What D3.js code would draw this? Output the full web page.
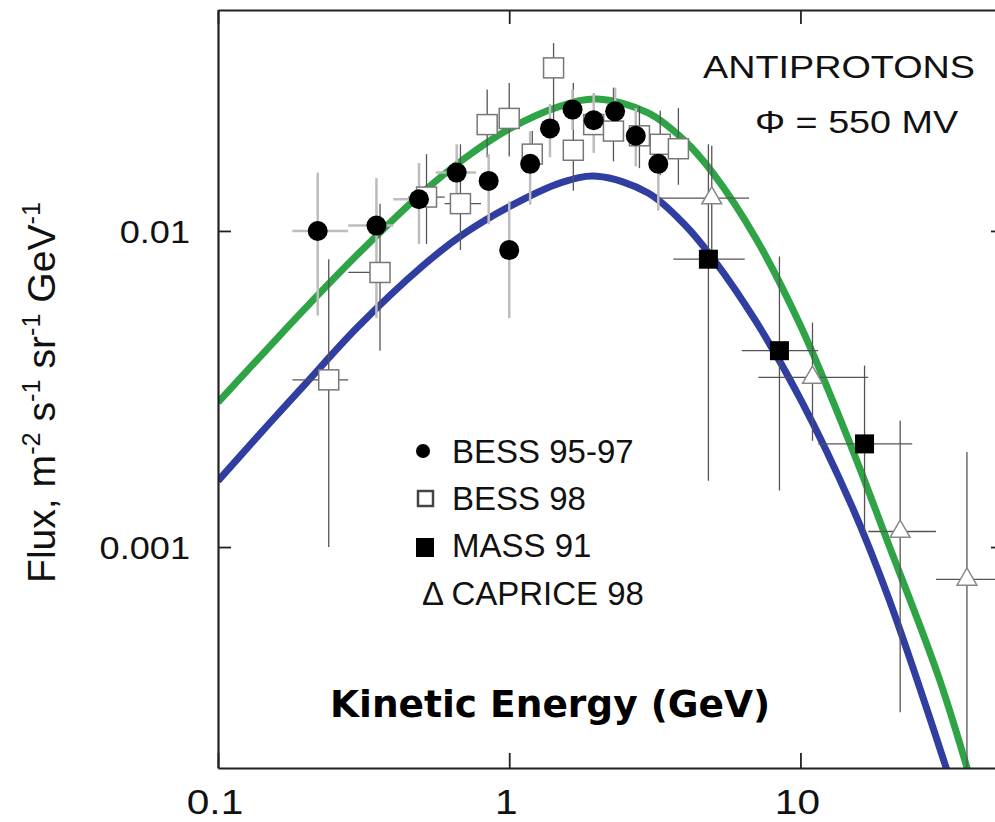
<!DOCTYPE html>
<html>
<head>
<meta charset="utf-8">
<script src="https://cdn.jsdelivr.net/npm/d3@7"></script>
<style>
  body { margin: 0; background: #fff; }
  svg { display: block; }
</style>
</head>
<body>
<div id="chart"></div>
<script>
// Antiprotons flux chart

// Model curves (flux at each energy)
var energyGrid = [0.1, 0.15, 0.2, 0.3, 0.5, 0.7, 1, 1.5, 2, 3, 4, 5, 7, 10, 15, 20, 30, 40]
var greenCurve = [0.00287, 0.0043, 0.00571, 0.00839, 0.01315, 0.01692, 0.02103, 0.02483, 0.02615, 0.02363, 0.01931, 0.01527, 0.00954, 0.00502, 0.00206, 0.00103, 0.000382, 0.000161]
var blueCurve = [0.00162, 0.00246, 0.00329, 0.00494, 0.0077, 0.0098, 0.01194, 0.0142, 0.0149, 0.01319, 0.01048, 0.00819, 0.00521, 0.00294, 0.00135, 0.000696, 0.000233, 0.000101]

// Data rows: [energy, flux, fluxLow, fluxHigh, energyLow, energyHigh]
var bess9597 = [
  [0.22, 0.0100, 0.0054, 0.0153, 0.18, 0.28],
  [0.35, 0.0104, 0.0053, 0.0147, 0.28, 0.40],
  [0.49, 0.0126, 0.0091, 0.0164, 0.40, 0.56],
  [0.66, 0.0153, 0.0116, 0.0188, 0.56, 0.77],
  [0.85, 0.0144, 0.0105, 0.0175, 0.85, 0.85],
  [1.0, 0.0087, 0.0053, 0.0124, 1.0, 1.0],
  [1.18, 0.0163, 0.0121, 0.0207, 1.18, 1.18],
  [1.38, 0.0211, 0.0171, 0.0252, 1.38, 1.38],
  [1.65, 0.0242, 0.0209, 0.0280, 1.65, 1.65],
  [1.95, 0.0224, 0.0177, 0.0273, 1.95, 1.95],
  [2.31, 0.0239, 0.0202, 0.0284, 2.31, 2.31],
  [2.72, 0.0200, 0.0160, 0.0245, 2.72, 2.72],
  [3.25, 0.0163, 0.0116, 0.0202, 3.25, 3.25]
]
var bess98 = [
  [0.24, 0.00338, 0.00100, 0.00814, 0.18, 0.28],
  [0.36, 0.00739, 0.00418, 0.0122, 0.28, 0.39],
  [0.52, 0.0128, 0.0091, 0.0175, 0.45, 0.60],
  [0.68, 0.0122, 0.0087, 0.0188, 0.60, 0.80],
  [0.84, 0.0217, 0.0171, 0.0280, 0.84, 0.84],
  [1.0, 0.0227, 0.0172, 0.0294, 1.0, 1.0],
  [1.2, 0.0175, 0.0155, 0.0207, 1.2, 1.2],
  [1.42, 0.0328, 0.0217, 0.0393, 1.42, 1.42],
  [1.66, 0.0180, 0.0134, 0.0294, 1.66, 1.66],
  [1.95, 0.0217, 0.0177, 0.0273, 1.95, 1.95],
  [2.28, 0.0207, 0.0166, 0.0284, 2.28, 2.28],
  [2.8, 0.0200, 0.0158, 0.0248, 2.8, 2.8],
  [3.3, 0.0188, 0.0150, 0.0240, 3.3, 3.3],
  [3.81, 0.0182, 0.0140, 0.0245, 3.81, 3.81]
]
var mass91 = [
  [4.83, 0.00814, 0.00162, 0.0188, 3.66, 6.44],
  [8.47, 0.00418, 0.00151, 0.0083, 6.29, 11.5],
  [16.6, 0.00212, 0.00111, 0.00375, 11.5, 24.2]
]
var caprice98 = [
  [4.96, 0.0127, 0.00865, 0.0186, 3.25, 6.66],
  [11.0, 0.00344, 0.00217, 0.00513, 7.17, 17.1],
  [22.0, 0.00112, 0.00030, 0.00251, 17.1, 29.2],
  [37.3, 0.00079, 0.00015, 0.00200, 29.2, 55]
]

var xMajor = [0.1, 1, 10]
var xMajorLabels = ['0.1', '1', '10']
var yMajor = [0.001, 0.01]
var yMajorLabels = ['0.001', '0.01']
var legendLabels = ['BESS 95-97', 'BESS 98', 'MASS 91', '\u0394 CAPRICE 98']

var width = 995
var height = 822
var plot = { left: 218, right: 1004, top: 10, bottom: 768 }
var stretch = 1.13

var svg = d3.select('#chart')
  .append('svg')
  .attr('width', width)
  .attr('height', height)
  .style('font-family', '"Liberation Sans", Arial, sans-serif')

var x = d3.scaleLog().domain([0.1, 50]).range([plot.left, plot.right])
var y = d3.scaleLog().domain([0.0002, 0.05]).range([plot.bottom, plot.top])

svg.append('defs').append('clipPath').attr('id', 'clip')
  .append('rect')
  .attr('x', plot.left)
  .attr('y', plot.top)
  .attr('width', plot.right - plot.left)
  .attr('height', plot.bottom - plot.top)

var inner = svg.append('g').attr('clip-path', 'url(#clip)')

// curves
var line = d3.line()
  .x(function (d) { return x(d[0]) })
  .y(function (d) { return y(d[1]) })
  .curve(d3.curveCatmullRom.alpha(0.5))

inner.append('path')
  .datum(energyGrid.map(function (e, i) { return [e, greenCurve[i]] }))
  .attr('d', line)
  .attr('fill', 'none')
  .attr('stroke', '#2fa447')
  .attr('stroke-width', 7)

inner.append('path')
  .datum(energyGrid.map(function (e, i) { return [e, blueCurve[i]] }))
  .attr('d', line)
  .attr('fill', 'none')
  .attr('stroke', '#2f3ea0')
  .attr('stroke-width', 7)

// error bars
function errorBars (rows, color, w) {
  var g = inner.append('g').attr('stroke', color).attr('stroke-width', w)
  g.selectAll('.v').data(rows).enter().append('line')
    .attr('x1', function (d) { return x(d[0]) })
    .attr('x2', function (d) { return x(d[0]) })
    .attr('y1', function (d) { return y(d[2]) })
    .attr('y2', function (d) { return y(d[3]) })
  g.selectAll('.h').data(rows.filter(function (d) { return d[4] !== d[5] })).enter().append('line')
    .attr('x1', function (d) { return x(d[4]) })
    .attr('x2', function (d) { return x(d[5]) })
    .attr('y1', function (d) { return y(d[1]) })
    .attr('y2', function (d) { return y(d[1]) })
}
errorBars(bess98, '#555', 1.3)
errorBars(mass91, '#555', 1.3)
errorBars(caprice98, '#555', 1.3)
errorBars(bess9597, '#bdbdbd', 2.5)

// markers
inner.selectAll('.sq').data(bess98).enter().append('rect')
  .attr('x', function (d) { return x(d[0]) - 10 })
  .attr('y', function (d) { return y(d[1]) - 10 })
  .attr('width', 20).attr('height', 20)
  .attr('fill', '#fff').attr('stroke', '#777').attr('stroke-width', 1.5)

inner.selectAll('.ms').data(mass91).enter().append('rect')
  .attr('x', function (d) { return x(d[0]) - 9.5 })
  .attr('y', function (d) { return y(d[1]) - 9.5 })
  .attr('width', 19).attr('height', 19)
  .attr('fill', '#000')

inner.selectAll('.tri').data(caprice98).enter().append('path')
  .attr('d', d3.symbol().type(d3.symbolTriangle).size(170))
  .attr('transform', function (d) { return 'translate(' + x(d[0]) + ',' + y(d[1]) + ')' })
  .attr('fill', '#fff').attr('stroke', '#888').attr('stroke-width', 1.5)

inner.selectAll('.dot').data(bess9597).enter().append('circle')
  .attr('cx', function (d) { return x(d[0]) })
  .attr('cy', function (d) { return y(d[1]) })
  .attr('r', 10)
  .attr('fill', '#000')

// axes (ticks inward)
function minorTicks (lo, hi) {
  var out = []
  for (var p = Math.floor(Math.log10(lo)); p <= Math.ceil(Math.log10(hi)); p++) {
    for (var k = 2; k <= 9; k++) {
      var v = k * Math.pow(10, p)
      if (v > lo && v < hi) out.push(v)
    }
  }
  return out
}
var xMinor = minorTicks(0.1, 50)
var yMinor = minorTicks(0.0002, 0.05)

function drawAxis (axisFn, scale, pos, majors, minors, majorLen, minorLen) {
  var g = svg.append('g').attr('transform', pos)
  g.call(axisFn(scale).tickValues(minors).tickSizeInner(-minorLen).tickSizeOuter(0).tickFormat(''))
  g.call(axisFn(scale).tickValues(majors).tickSizeInner(-majorLen).tickSizeOuter(0).tickFormat(''))
  g.selectAll('path.domain').attr('stroke', '#222').attr('stroke-width', 2.2)
  g.selectAll('.tick line').attr('stroke', '#222').attr('stroke-width', 1.8)
}
drawAxis(d3.axisBottom, x, 'translate(0,' + plot.bottom + ')', xMajor, xMinor, 15, 7)
drawAxis(d3.axisTop, x, 'translate(0,' + plot.top + ')', xMajor, xMinor, 14, 7)
drawAxis(d3.axisLeft, y, 'translate(' + plot.left + ',0)', yMajor, yMinor, 13, 7)
drawAxis(d3.axisRight, y, 'translate(' + plot.right + ',0)', yMajor, yMinor, 13, 7)

// tick labels
xMajor.forEach(function (v, i) {
  svg.append('text')
    .attr('transform', 'translate(' + (x(v) - 3) + ',814) scale(1.16,1)')
    .attr('text-anchor', 'middle')
    .attr('font-size', 35)
    .attr('fill', '#111')
    .text(xMajorLabels[i])
})
yMajor.forEach(function (v, i) {
  svg.append('text')
    .attr('transform', 'translate(190,' + (y(v) + 12) + ') scale(' + stretch + ',1)')
    .attr('text-anchor', 'end')
    .attr('font-size', 32)
    .attr('fill', '#111')
    .text(yMajorLabels[i])
})

// y title
var yTitle = svg.append('text')
  .attr('transform', 'translate(55,583) rotate(-90) scale(1.15,' + stretch + ')')
  .attr('font-size', 34)
  .attr('fill', '#111')
var parts = [['Flux, m', ''], ['-2', 's'], [' s', ''], ['-1', 's'], [' sr', ''], ['-1', 's'], [' GeV', ''], ['-1', 's']]
parts.forEach(function (p, i) {
  var prevSup = i > 0 && parts[i - 1][1] === 's'
  var t = yTitle.append('tspan').text(p[0])
  if (p[1] === 's') t.attr('font-size', 22).attr('dy', -13)
  else if (prevSup) t.attr('dy', 13)
})

// annotations
svg.append('text')
  .attr('transform', 'translate(703,78) scale(1.18,1)')
  .attr('font-size', 32).attr('fill', '#111')
  .text('ANTIPROTONS')
svg.append('text')
  .attr('transform', 'translate(755,133) scale(1.18,1)')
  .attr('font-size', 32).attr('fill', '#111')
  .text('\u03A6 = 550 MV')

// legend
var legendY = [463, 510, 557, 605]
svg.append('circle').attr('cx', 423).attr('cy', legendY[0] - 12).attr('r', 7).attr('fill', '#000')
svg.append('rect').attr('x', 418).attr('y', legendY[1] - 19).attr('width', 15).attr('height', 15)
  .attr('fill', '#fff').attr('stroke', '#444').attr('stroke-width', 2.5)
svg.append('rect').attr('x', 416).attr('y', legendY[2] - 19).attr('width', 18).attr('height', 19)
  .attr('fill', '#000')
legendLabels.forEach(function (t, i) {
  svg.append('text')
    .attr('x', i === 3 ? 422 : 452)
    .attr('y', legendY[i])
    .attr('font-size', 33)
    .attr('fill', '#111')
    .text(t)
})

// x title
svg.append('text')
  .attr('x', 330)
  .attr('y', 717)
  .attr('font-family', '"DejaVu Sans", sans-serif')
  .attr('font-weight', 'bold')
  .attr('font-size', 37.5)
  .attr('fill', '#000')
  .text('Kinetic Energy (GeV)')
</script>
</body>
</html>
